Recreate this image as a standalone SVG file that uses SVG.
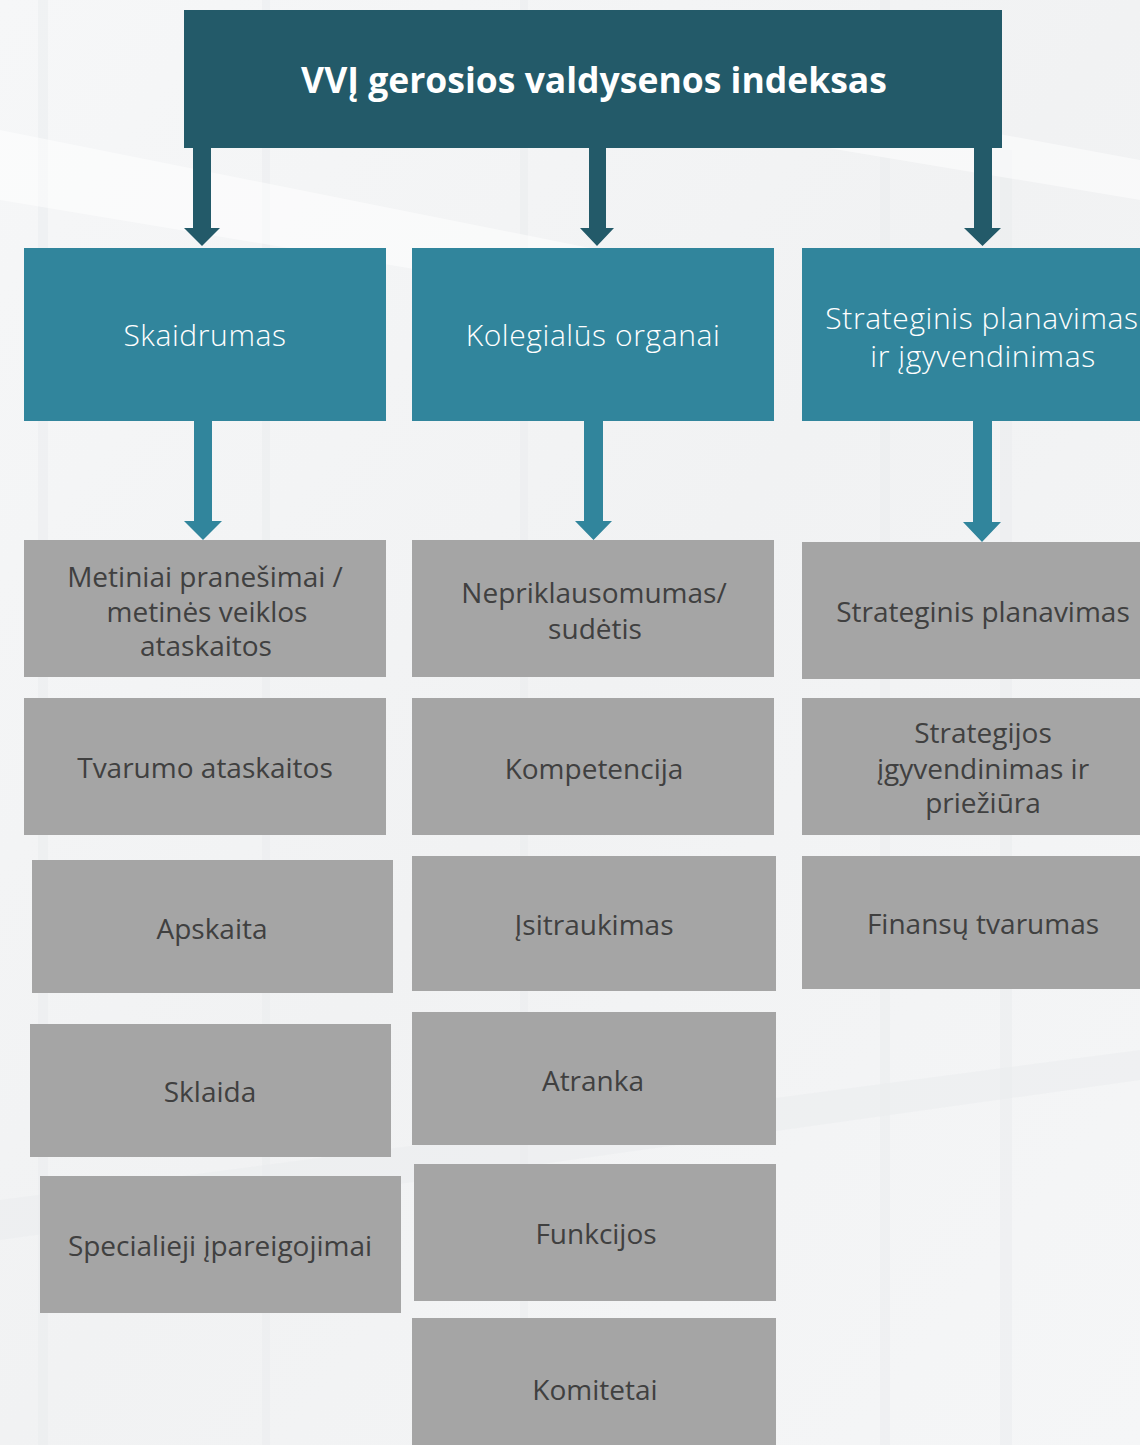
<svg xmlns="http://www.w3.org/2000/svg" width="1140" height="1445" viewBox="0 0 1140 1445">
<defs>
<linearGradient id="bg" x1="0" y1="0" x2="1" y2="1">
<stop offset="0" stop-color="#f6f7f8"/>
<stop offset="0.5" stop-color="#f1f2f3"/>
<stop offset="1" stop-color="#f5f6f7"/>
</linearGradient>
<style>
.top{fill:#235a69}
.cat{fill:#31859c}
.item{fill:#a5a5a5}
.a1{fill:#235a69}
.a2{fill:#31859c}
.tt{font-family:"Open Sans","Noto Sans","DejaVu Sans",sans-serif;font-weight:700;font-size:35.5px;fill:#ffffff;text-anchor:middle}
.ct{font-family:"Open Sans","Noto Sans","DejaVu Sans",sans-serif;font-weight:300;font-size:30px;letter-spacing:0.6px;fill:#ffffff;text-anchor:middle}
.it{font-family:"Open Sans","Noto Sans","DejaVu Sans",sans-serif;font-weight:400;font-size:28px;fill:#404040;text-anchor:middle}
.bgs{fill:#e9ebed;opacity:0.45}
.bgw{fill:#ffffff;opacity:0.5}
</style>
</defs>
<rect x="0" y="0" width="1140" height="1445" fill="url(#bg)"/>
<g id="background">
<rect class="bgs" x="38" y="0" width="10" height="1445"/>
<rect class="bgs" x="262" y="0" width="8" height="1445"/>
<rect class="bgs" x="520" y="0" width="8" height="1445"/>
<rect class="bgs" x="880" y="0" width="10" height="1445"/>
<rect class="bgs" x="1000" y="150" width="12" height="1295"/>
<polygon class="bgw" points="0,130 600,250 600,300 0,200"/>
<polygon class="bgw" points="600,60 1140,160 1140,200 600,110"/>
<polygon class="bgs" points="0,1200 1140,1050 1140,1080 0,1240"/>
</g>
<g id="connectors">
<polygon class="a1" points="193,148 211,148 211,228 220,228 202,246 184,228 193,228"/>
<polygon class="a1" points="589,148 606,148 606,228 614,228 597,246 580,228 589,228"/>
<polygon class="a1" points="974,148 992,148 992,228 1001,228 982.5,246 964,228 974,228"/>
<polygon class="a2" points="194,421 212,421 212,521 222,521 203,540 184,521 194,521"/>
<polygon class="a2" points="584,421 603,421 603,521 612,521 593.5,540 575,521 584,521"/>
<polygon class="a2" points="973,421 992,421 992,522 1001,522 982,542 963,522 973,522"/>
</g>
<g id="node-root">
<rect class="top" x="184" y="10" width="818" height="138"/>
<text class="tt" x="594" y="93">VVĮ gerosios valdysenos indeksas</text>
</g>
<g id="node-skaidrumas">
<rect class="cat" x="24" y="248" width="362" height="173"/>
<text class="ct" x="205" y="346">Skaidrumas</text>
</g>
<g id="node-kolegialus">
<rect class="cat" x="412" y="248" width="362" height="173"/>
<text class="ct" x="593" y="346">Kolegialūs organai</text>
</g>
<g id="node-strateginis">
<rect class="cat" x="802" y="248" width="338" height="173"/>
<text class="ct" x="982" y="329">Strateginis planavimas</text>
<text class="ct" x="983" y="367">ir įgyvendinimas</text>
</g>
<g id="node-metiniai">
<rect class="item" x="24" y="540" width="362" height="137"/>
<text class="it" x="205" y="587">Metiniai pranešimai /</text>
<text class="it" x="207" y="622">metinės veiklos</text>
<text class="it" x="206" y="656">ataskaitos</text>
</g>
<g id="node-tvarumo">
<rect class="item" x="24" y="698" width="362" height="137"/>
<text class="it" x="205" y="778">Tvarumo ataskaitos</text>
</g>
<g id="node-apskaita">
<rect class="item" x="32" y="860" width="361" height="133"/>
<text class="it" x="212" y="939">Apskaita</text>
</g>
<g id="node-sklaida">
<rect class="item" x="30" y="1024" width="361" height="133"/>
<text class="it" x="210" y="1102">Sklaida</text>
</g>
<g id="node-specialieji">
<rect class="item" x="40" y="1176" width="361" height="137"/>
<text class="it" x="220" y="1256">Specialieji įpareigojimai</text>
</g>
<g id="node-nepriklausomumas">
<rect class="item" x="412" y="540" width="362" height="137"/>
<text class="it" x="594" y="603">Nepriklausomumas/</text>
<text class="it" x="595" y="639">sudėtis</text>
</g>
<g id="node-kompetencija">
<rect class="item" x="412" y="698" width="362" height="137"/>
<text class="it" x="594" y="779">Kompetencija</text>
</g>
<g id="node-isitraukimas">
<rect class="item" x="412" y="856" width="364" height="135"/>
<text class="it" x="594" y="935">Įsitraukimas</text>
</g>
<g id="node-atranka">
<rect class="item" x="412" y="1012" width="364" height="133"/>
<text class="it" x="593" y="1091">Atranka</text>
</g>
<g id="node-funkcijos">
<rect class="item" x="414" y="1164" width="362" height="137"/>
<text class="it" x="596" y="1244">Funkcijos</text>
</g>
<g id="node-komitetai">
<rect class="item" x="412" y="1318" width="364" height="127"/>
<text class="it" x="595" y="1400">Komitetai</text>
</g>
<g id="node-strateginis-planavimas">
<rect class="item" x="802" y="542" width="338" height="137"/>
<text class="it" x="983" y="622">Strateginis planavimas</text>
</g>
<g id="node-strategijos">
<rect class="item" x="802" y="698" width="338" height="137"/>
<text class="it" x="983" y="743">Strategijos</text>
<text class="it" x="983" y="779">įgyvendinimas ir</text>
<text class="it" x="983" y="813">priežiūra</text>
</g>
<g id="node-finansu">
<rect class="item" x="802" y="856" width="338" height="133"/>
<text class="it" x="983" y="934">Finansų tvarumas</text>
</g>
</svg>
